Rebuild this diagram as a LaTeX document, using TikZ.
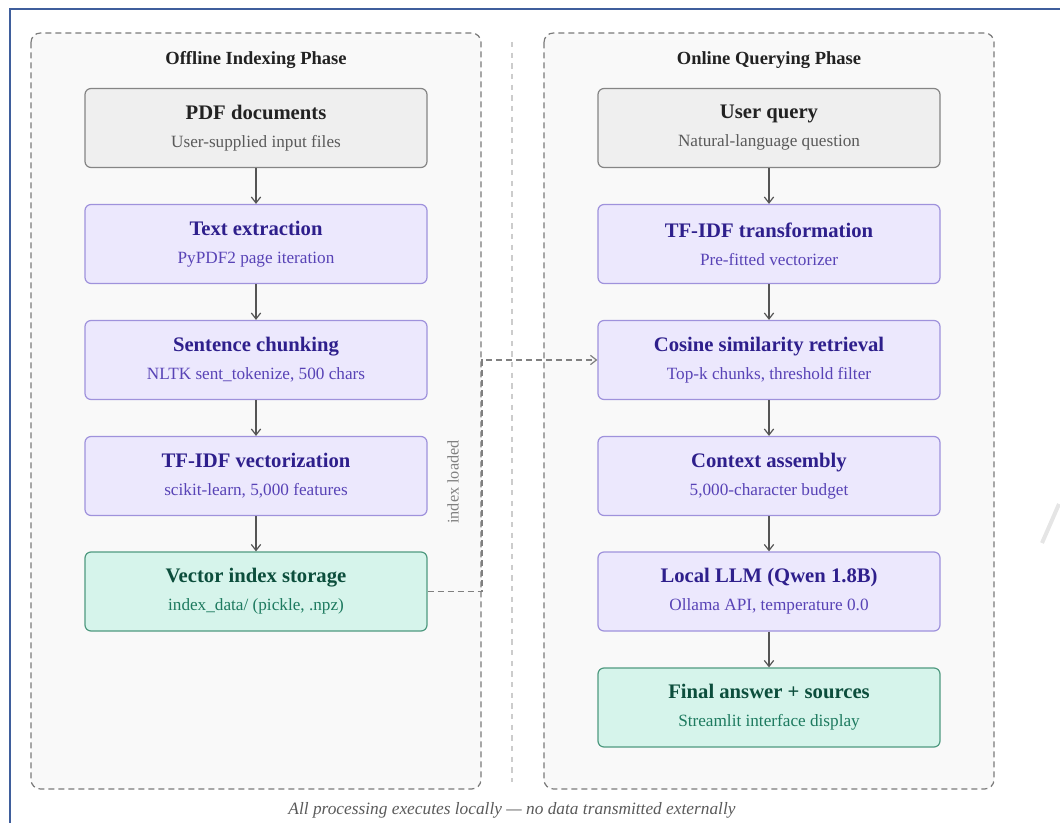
\documentclass[tikz,border=0pt]{standalone}
\usepackage{fontspec}
\setmainfont{Liberation Serif}
\usetikzlibrary{arrows.meta}

\definecolor{framec}{HTML}{3F5E9C}
\definecolor{panelf}{HTML}{F9F9F9}
\definecolor{panell}{HTML}{7A7A7A}
\definecolor{grayf}{HTML}{EFEFEF}
\definecolor{grayl}{HTML}{858585}
\definecolor{grayt}{HTML}{222222}
\definecolor{grays}{HTML}{5A5A5A}
\definecolor{purf}{HTML}{ECE8FD}
\definecolor{purl}{HTML}{9F92DC}
\definecolor{purt}{HTML}{2E1F8C}
\definecolor{purs}{HTML}{5843B6}
\definecolor{grnf}{HTML}{D6F4EB}
\definecolor{grnl}{HTML}{4F9A80}
\definecolor{grnt}{HTML}{0C4E3C}
\definecolor{grns}{HTML}{1D7A5F}
\definecolor{flowc}{HTML}{555555}

\begin{document}
\begin{tikzpicture}[x=0.75pt, y=-0.75pt, >={Straight Barb[length=4.5pt,width=7pt]},
  every node/.style={inner sep=0pt},
  box/.style={draw, rounded corners=4.5pt, line width=0.9pt, minimum width=256.5pt,
    minimum height=59.25pt, align=center, font=\fontsize{12.9}{21}\selectfont},
  inbox/.style={box, fill=grayf, draw=grayl, text=grays},
  procbox/.style={box, fill=purf, draw=purl, text=purs},
  outbox/.style={box, fill=grnf, draw=grnl, text=grns},
  panel/.style={draw=panell, fill=panelf, line width=0.9pt, dash pattern=on 4.5pt off 3pt, rounded corners=7pt},
  phase/.style={font=\fontsize{13.9}{16}\selectfont\bfseries, text=grayt},
  flow/.style={->, draw=flowc, line width=0.9pt}]
\useasboundingbox (0,0) rectangle (1060,823);

% frame and panels
\draw[framec, line width=0.9pt] (10,823) -- (10,9) -- (1060,9);
\draw[panel] (31,33) rectangle (481,789);
\draw[panel] (544,33) rectangle (994,789);
\draw[gray!40, line width=0.8pt, dash pattern=on 4pt off 4pt] (512,42) -- (512,782);
\draw[gray!20, line width=3pt] (1042,543) -- (1059,504);

\node[phase] (offline) at (256,60) {Offline Indexing Phase};
\node[phase] (online) at (769,60) {Online Querying Phase};

% offline
\node[inbox] (pdf) at (256,128) {{\fontsize{15.5}{21}\selectfont\bfseries\color{grayt}PDF documents}\\User-supplied input files};
\node[procbox] (extract) at (256,244) {{\fontsize{15.5}{21}\selectfont\bfseries\color{purt}Text extraction}\\PyPDF2 page iteration};
\node[procbox] (chunk) at (256,360) {{\fontsize{15.5}{21}\selectfont\bfseries\color{purt}Sentence chunking}\\NLTK sent\_tokenize, 500 chars};
\node[procbox] (vec) at (256,476) {{\fontsize{15.5}{21}\selectfont\bfseries\color{purt}TF-IDF vectorization}\\scikit-learn, 5,000 features};
\node[outbox] (store) at (256,591.5) {{\fontsize{15.5}{21}\selectfont\bfseries\color{grnt}Vector index storage}\\index\_data/ (pickle, .npz)};

% online
\node[inbox] (query) at (769,128) {{\fontsize{15.5}{21}\selectfont\bfseries\color{grayt}User query}\\Natural-language question};
\node[procbox] (tfidf) at (769,244) {{\fontsize{15.5}{21}\selectfont\bfseries\color{purt}TF-IDF transformation}\\Pre-fitted vectorizer};
\node[procbox] (cosine) at (769,360) {{\fontsize{15.5}{21}\selectfont\bfseries\color{purt}Cosine similarity retrieval}\\Top-k chunks, threshold filter};
\node[procbox] (context) at (769,476) {{\fontsize{15.5}{21}\selectfont\bfseries\color{purt}Context assembly}\\5,000-character budget};
\node[procbox] (llm) at (769,591.5) {{\fontsize{15.5}{21}\selectfont\bfseries\color{purt}Local LLM (Qwen 1.8B)}\\Ollama API, temperature 0.0};
\node[outbox] (answer) at (769,707.5) {{\fontsize{15.5}{21}\selectfont\bfseries\color{grnt}Final answer + sources}\\Streamlit interface display};

\draw[flow] (pdf) -- (extract);
\draw[flow] (extract) -- (chunk);
\draw[flow] (chunk) -- (vec);
\draw[flow] (vec) -- (store);
\draw[flow] (query) -- (tfidf);
\draw[flow] (tfidf) -- (cosine);
\draw[flow] (cosine) -- (context);
\draw[flow] (context) -- (llm);
\draw[flow] (llm) -- (answer);

% index handed over
\coordinate (turn) at (482,591.5);
\draw[->, draw=gray, line width=0.9pt, dash pattern=on 4.5pt off 3pt] (store.east) -- (turn) |- (cosine.west);
\node[rotate=90, text=gray, font=\fontsize{12.2}{14}\selectfont] (loaded) at (453,482) {index loaded};

\node[text=grays, font=\fontsize{13}{15}\selectfont\itshape] (note) at (512,810) {All processing executes locally --- no data transmitted externally};
\end{tikzpicture}
\end{document}
